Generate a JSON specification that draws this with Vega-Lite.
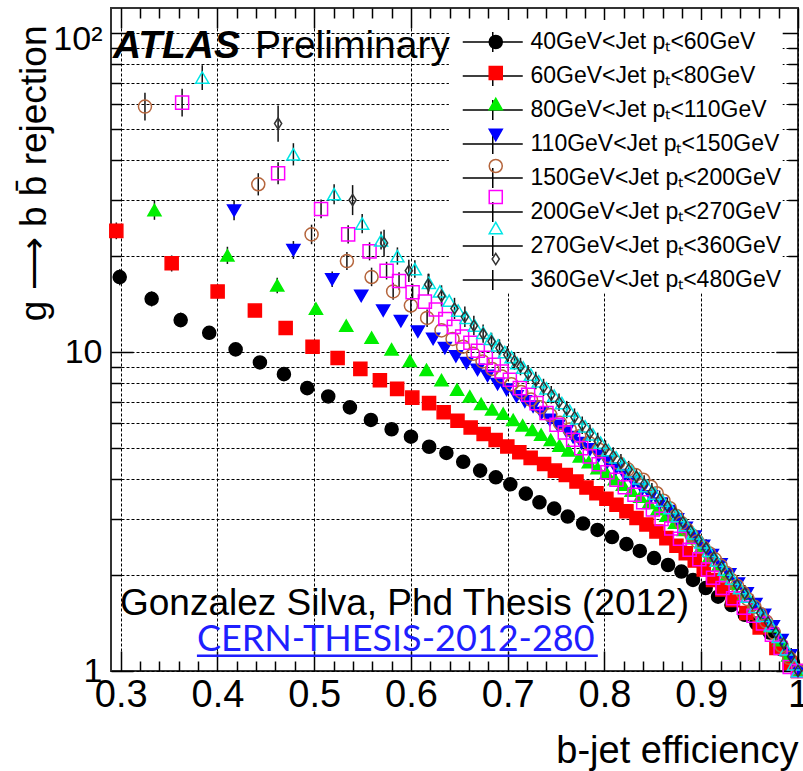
{
"$schema":"https://vega.github.io/schema/vega-lite/v6.json",
"width":687,"height":663,"autosize":"none",
"padding":{"left":111,"top":8,"right":5,"bottom":100},
"background":"white",
"config":{"view":{"stroke":"#333","strokeWidth":2},"font":"Liberation Sans"},
"datasets":{"pts":[
{"s":1,"x":0.299,"y":17.2,"lo":16.2,"hi":18.2},{"s":1,"x":0.332,"y":14.7,"lo":13.9,"hi":15.5},{"s":1,"x":0.362,"y":12.6,"lo":12.0,"hi":13.3},{"s":1,"x":0.3915,"y":11.5},{"s":1,"x":0.4188,"y":10.2},{"s":1,"x":0.4439,"y":9.28},{"s":1,"x":0.4687,"y":8.53},{"s":1,"x":0.4928,"y":7.71},{"s":1,"x":0.5145,"y":7.26},{"s":1,"x":0.5369,"y":6.71},{"s":1,"x":0.5586,"y":6.13},{"s":1,"x":0.58,"y":5.73},{"s":1,"x":0.6,"y":5.43},{"s":1,"x":0.6188,"y":5.05},{"s":1,"x":0.6366,"y":4.83},{"s":1,"x":0.654,"y":4.53},{"s":1,"x":0.6715,"y":4.25},{"s":1,"x":0.6877,"y":4.05},{"s":1,"x":0.7027,"y":3.85},{"s":1,"x":0.7187,"y":3.6},{"s":1,"x":0.7328,"y":3.38},{"s":1,"x":0.748,"y":3.23},{"s":1,"x":0.762,"y":3.05},{"s":1,"x":0.7779,"y":2.9},{"s":1,"x":0.7928,"y":2.77},{"s":1,"x":0.8078,"y":2.63},{"s":1,"x":0.8227,"y":2.5},{"s":1,"x":0.8365,"y":2.38},{"s":1,"x":0.8512,"y":2.26},{"s":1,"x":0.8657,"y":2.15},{"s":1,"x":0.8795,"y":2.05},{"s":1,"x":0.8915,"y":1.93},{"s":1,"x":0.9046,"y":1.82},{"s":1,"x":0.9174,"y":1.71},{"s":1,"x":0.9312,"y":1.61},{"s":1,"x":0.945,"y":1.5},{"s":1,"x":0.957,"y":1.41},{"s":1,"x":0.9708,"y":1.32},{"s":1,"x":0.9829,"y":1.17},{"s":1,"x":0.9948,"y":1.06},
{"s":2,"x":0.2955,"y":24.0,"lo":22.6,"hi":25.5},{"s":2,"x":0.3527,"y":19.0,"lo":17.9,"hi":20.1},{"s":2,"x":0.4002,"y":15.5,"lo":14.7,"hi":16.3},{"s":2,"x":0.4387,"y":13.5},{"s":2,"x":0.4705,"y":11.9},{"s":2,"x":0.4983,"y":10.4},{"s":2,"x":0.5242,"y":9.58},{"s":2,"x":0.5477,"y":8.86},{"s":2,"x":0.5679,"y":8.16},{"s":2,"x":0.5857,"y":7.67},{"s":2,"x":0.6014,"y":7.2},{"s":2,"x":0.6187,"y":6.92},{"s":2,"x":0.6338,"y":6.48},{"s":2,"x":0.6481,"y":6.09},{"s":2,"x":0.6617,"y":5.8},{"s":2,"x":0.6751,"y":5.54},{"s":2,"x":0.6875,"y":5.3},{"s":2,"x":0.6996,"y":5.06},{"s":2,"x":0.712,"y":4.85},{"s":2,"x":0.7237,"y":4.66},{"s":2,"x":0.7376,"y":4.46},{"s":2,"x":0.7487,"y":4.25},{"s":2,"x":0.76,"y":4.12},{"s":2,"x":0.7711,"y":3.93},{"s":2,"x":0.7814,"y":3.76},{"s":2,"x":0.7917,"y":3.61},{"s":2,"x":0.802,"y":3.47},{"s":2,"x":0.8124,"y":3.32},{"s":2,"x":0.8227,"y":3.17},{"s":2,"x":0.8331,"y":3.02},{"s":2,"x":0.8434,"y":2.88},{"s":2,"x":0.8537,"y":2.74},{"s":2,"x":0.864,"y":2.61},{"s":2,"x":0.8744,"y":2.47},{"s":2,"x":0.884,"y":2.34},{"s":2,"x":0.8933,"y":2.22},{"s":2,"x":0.9026,"y":2.08},{"s":2,"x":0.9122,"y":1.93},{"s":2,"x":0.9219,"y":1.8},{"s":2,"x":0.9325,"y":1.67},{"s":2,"x":0.9467,"y":1.52},{"s":2,"x":0.9604,"y":1.37},{"s":2,"x":0.9777,"y":1.18},{"s":2,"x":0.9914,"y":1.06},{"s":2,"x":1.0,"y":1.0},
{"s":3,"x":0.3349,"y":27.9,"lo":26.0,"hi":30.0},{"s":3,"x":0.4103,"y":20.1,"lo":18.9,"hi":21.4},{"s":3,"x":0.4618,"y":16.2,"lo":15.3,"hi":17.1},{"s":3,"x":0.5018,"y":13.7},{"s":3,"x":0.5331,"y":12.1},{"s":3,"x":0.5593,"y":11.1},{"s":3,"x":0.58,"y":10.2},{"s":3,"x":0.5989,"y":9.39},{"s":3,"x":0.6161,"y":8.8},{"s":3,"x":0.6316,"y":8.17},{"s":3,"x":0.6477,"y":7.63},{"s":3,"x":0.6608,"y":7.26},{"s":3,"x":0.6725,"y":6.88},{"s":3,"x":0.6838,"y":6.61},{"s":3,"x":0.6953,"y":6.41},{"s":3,"x":0.7056,"y":6.13},{"s":3,"x":0.7154,"y":5.89},{"s":3,"x":0.7254,"y":5.7},{"s":3,"x":0.7345,"y":5.51},{"s":3,"x":0.7445,"y":5.31},{"s":3,"x":0.7535,"y":5.09},{"s":3,"x":0.7628,"y":4.92},{"s":3,"x":0.7745,"y":4.71},{"s":3,"x":0.7838,"y":4.52},{"s":3,"x":0.7928,"y":4.33},{"s":3,"x":0.8021,"y":4.18},{"s":3,"x":0.8107,"y":4.0},{"s":3,"x":0.819,"y":3.84},{"s":3,"x":0.828,"y":3.68},{"s":3,"x":0.837,"y":3.52},{"s":3,"x":0.846,"y":3.37},{"s":3,"x":0.855,"y":3.22},{"s":3,"x":0.864,"y":3.07},{"s":3,"x":0.873,"y":2.92},{"s":3,"x":0.882,"y":2.77},{"s":3,"x":0.891,"y":2.61},{"s":3,"x":0.9,"y":2.45},{"s":3,"x":0.909,"y":2.3},{"s":3,"x":0.918,"y":2.15},{"s":3,"x":0.927,"y":2.01},{"s":3,"x":0.936,"y":1.88},{"s":3,"x":0.945,"y":1.75},{"s":3,"x":0.954,"y":1.62},{"s":3,"x":0.963,"y":1.5},{"s":3,"x":0.972,"y":1.38},{"s":3,"x":0.981,"y":1.25},{"s":3,"x":0.99,"y":1.12},{"s":3,"x":1.0,"y":1.0},
{"s":4,"x":0.4172,"y":27.8,"lo":25.9,"hi":29.9},{"s":4,"x":0.4785,"y":20.9,"lo":19.6,"hi":22.3},{"s":4,"x":0.5186,"y":16.9,"lo":16.0,"hi":17.9},{"s":4,"x":0.5486,"y":15.0},{"s":4,"x":0.5713,"y":13.5},{"s":4,"x":0.5896,"y":12.5},{"s":4,"x":0.6071,"y":11.6},{"s":4,"x":0.6229,"y":11.0},{"s":4,"x":0.635,"y":10.3},{"s":4,"x":0.6464,"y":9.7},{"s":4,"x":0.6574,"y":9.24},{"s":4,"x":0.6688,"y":8.8},{"s":4,"x":0.6791,"y":8.43},{"s":4,"x":0.6895,"y":7.94},{"s":4,"x":0.6988,"y":7.62},{"s":4,"x":0.7091,"y":7.26},{"s":4,"x":0.7177,"y":7.0},{"s":4,"x":0.7262,"y":6.75},{"s":4,"x":0.7349,"y":6.44},{"s":4,"x":0.7435,"y":6.13},{"s":4,"x":0.7521,"y":5.87},{"s":4,"x":0.7607,"y":5.64},{"s":4,"x":0.7676,"y":5.41},{"s":4,"x":0.7762,"y":5.18},{"s":4,"x":0.785,"y":4.95},{"s":4,"x":0.794,"y":4.73},{"s":4,"x":0.803,"y":4.52},{"s":4,"x":0.812,"y":4.31},{"s":4,"x":0.821,"y":4.11},{"s":4,"x":0.83,"y":3.91},{"s":4,"x":0.839,"y":3.72},{"s":4,"x":0.848,"y":3.53},{"s":4,"x":0.857,"y":3.35},{"s":4,"x":0.866,"y":3.17},{"s":4,"x":0.875,"y":2.99},{"s":4,"x":0.884,"y":2.81},{"s":4,"x":0.893,"y":2.64},{"s":4,"x":0.902,"y":2.47},{"s":4,"x":0.911,"y":2.31},{"s":4,"x":0.92,"y":2.16},{"s":4,"x":0.929,"y":2.01},{"s":4,"x":0.938,"y":1.88},{"s":4,"x":0.947,"y":1.75},{"s":4,"x":0.956,"y":1.62},{"s":4,"x":0.965,"y":1.5},{"s":4,"x":0.974,"y":1.38},{"s":4,"x":0.983,"y":1.25},{"s":4,"x":0.992,"y":1.12},{"s":4,"x":1.0,"y":1.0},
{"s":5,"x":0.3251,"y":58.9,"lo":53.3,"hi":65.1},{"s":5,"x":0.4422,"y":33.6,"lo":31.0,"hi":36.4},{"s":5,"x":0.4973,"y":23.4,"lo":21.8,"hi":25.1},{"s":5,"x":0.5338,"y":19.3,"lo":18.1,"hi":20.6},{"s":5,"x":0.5593,"y":17.2,"lo":16.1,"hi":18.4},{"s":5,"x":0.5816,"y":15.5,"lo":14.6,"hi":16.5},{"s":5,"x":0.5999,"y":14.0,"lo":13.2,"hi":14.9},{"s":5,"x":0.6167,"y":12.8,"lo":12.0,"hi":13.6},{"s":5,"x":0.6316,"y":11.7},{"s":5,"x":0.643,"y":11.0},{"s":5,"x":0.6539,"y":10.4},{"s":5,"x":0.6643,"y":9.88},{"s":5,"x":0.674,"y":9.35},{"s":5,"x":0.684,"y":8.85},{"s":5,"x":0.694,"y":8.38},{"s":5,"x":0.704,"y":7.93},{"s":5,"x":0.714,"y":7.5},{"s":5,"x":0.724,"y":7.1},{"s":5,"x":0.734,"y":6.72},{"s":5,"x":0.744,"y":6.35},{"s":5,"x":0.754,"y":6.0},{"s":5,"x":0.764,"y":5.72},{"s":5,"x":0.774,"y":5.45},{"s":5,"x":0.784,"y":5.19},{"s":5,"x":0.794,"y":4.95},{"s":5,"x":0.804,"y":4.72},{"s":5,"x":0.814,"y":4.5},{"s":5,"x":0.824,"y":4.29},{"s":5,"x":0.832,"y":4.12},{"s":5,"x":0.84,"y":3.98},{"s":5,"x":0.848,"y":3.78},{"s":5,"x":0.854,"y":3.61},{"s":5,"x":0.861,"y":3.42},{"s":5,"x":0.8675,"y":3.24},{"s":5,"x":0.874,"y":3.07},{"s":5,"x":0.8795,"y":2.91},{"s":5,"x":0.885,"y":2.78},{"s":5,"x":0.89,"y":2.67},{"s":5,"x":0.896,"y":2.55},{"s":5,"x":0.902,"y":2.44},{"s":5,"x":0.908,"y":2.34},{"s":5,"x":0.914,"y":2.24},{"s":5,"x":0.92,"y":2.14},{"s":5,"x":0.926,"y":2.03},{"s":5,"x":0.931,"y":1.93},{"s":5,"x":0.937,"y":1.85},{"s":5,"x":0.943,"y":1.76},{"s":5,"x":0.948,"y":1.68},{"s":5,"x":0.955,"y":1.59},{"s":5,"x":0.961,"y":1.51},{"s":5,"x":0.967,"y":1.43},{"s":5,"x":0.975,"y":1.32},{"s":5,"x":0.983,"y":1.2},{"s":5,"x":0.991,"y":1.1},{"s":5,"x":1.0,"y":1.0},
{"s":6,"x":0.3635,"y":60.6,"lo":54.8,"hi":67.0},{"s":6,"x":0.4627,"y":36.4,"lo":33.6,"hi":39.4},{"s":6,"x":0.5071,"y":28.1,"lo":26.3,"hi":30.1},{"s":6,"x":0.5351,"y":23.4,"lo":21.9,"hi":25.0},{"s":6,"x":0.5572,"y":20.7,"lo":19.4,"hi":22.1},{"s":6,"x":0.5748,"y":18.0,"lo":16.9,"hi":19.2},{"s":6,"x":0.5877,"y":16.7,"lo":15.7,"hi":17.8},{"s":6,"x":0.6017,"y":15.4,"lo":14.5,"hi":16.4},{"s":6,"x":0.6144,"y":14.4},{"s":6,"x":0.6257,"y":13.6},{"s":6,"x":0.6355,"y":12.7},{"s":6,"x":0.6443,"y":12.0},{"s":6,"x":0.6529,"y":11.2},{"s":6,"x":0.6614,"y":10.7},{"s":6,"x":0.6691,"y":10.1},{"s":6,"x":0.6774,"y":9.6},{"s":6,"x":0.6856,"y":9.12},{"s":6,"x":0.6936,"y":8.69},{"s":6,"x":0.7022,"y":8.19},{"s":6,"x":0.7125,"y":7.71},{"s":6,"x":0.7211,"y":7.35},{"s":6,"x":0.7298,"y":6.92},{"s":6,"x":0.7401,"y":6.44},{"s":6,"x":0.7504,"y":5.92},{"s":6,"x":0.759,"y":5.6},{"s":6,"x":0.7676,"y":5.31},{"s":6,"x":0.776,"y":5.0},{"s":6,"x":0.7848,"y":4.71},{"s":6,"x":0.794,"y":4.45},{"s":6,"x":0.803,"y":4.2},{"s":6,"x":0.8124,"y":3.98},{"s":6,"x":0.821,"y":3.77},{"s":6,"x":0.831,"y":3.57},{"s":6,"x":0.84,"y":3.38},{"s":6,"x":0.85,"y":3.21},{"s":6,"x":0.859,"y":3.0},{"s":6,"x":0.869,"y":2.8},{"s":6,"x":0.878,"y":2.6},{"s":6,"x":0.888,"y":2.4},{"s":6,"x":0.898,"y":2.24},{"s":6,"x":0.907,"y":2.08},{"s":6,"x":0.9122,"y":1.96},{"s":6,"x":0.922,"y":1.82},{"s":6,"x":0.9329,"y":1.69},{"s":6,"x":0.944,"y":1.58},{"s":6,"x":0.954,"y":1.49},{"s":6,"x":0.9638,"y":1.41},{"s":6,"x":0.973,"y":1.3},{"s":6,"x":0.982,"y":1.18},{"s":6,"x":0.9914,"y":1.03},{"s":6,"x":1.0,"y":1.0},
{"s":7,"x":0.3843,"y":72.6,"lo":66.4,"hi":79.4},{"s":7,"x":0.4785,"y":41.7,"lo":38.5,"hi":45.2},{"s":7,"x":0.5206,"y":31.3,"lo":29.1,"hi":33.6},{"s":7,"x":0.5496,"y":25.3,"lo":23.6,"hi":27.1},{"s":7,"x":0.5691,"y":22.4,"lo":21.0,"hi":23.9},{"s":7,"x":0.586,"y":20.0,"lo":18.8,"hi":21.3},{"s":7,"x":0.604,"y":18.2,"lo":17.1,"hi":19.4},{"s":7,"x":0.6185,"y":16.5,"lo":15.5,"hi":17.6},{"s":7,"x":0.6299,"y":15.5},{"s":7,"x":0.6395,"y":14.5},{"s":7,"x":0.6488,"y":13.5},{"s":7,"x":0.6574,"y":12.8},{"s":7,"x":0.666,"y":12.1},{"s":7,"x":0.6746,"y":11.5},{"s":7,"x":0.6825,"y":11.0},{"s":7,"x":0.6901,"y":10.5},{"s":7,"x":0.697,"y":10.0},{"s":7,"x":0.7039,"y":9.64},{"s":7,"x":0.7097,"y":9.24},{"s":7,"x":0.716,"y":8.95},{"s":7,"x":0.724,"y":8.5},{"s":7,"x":0.732,"y":8.1},{"s":7,"x":0.74,"y":7.7},{"s":7,"x":0.748,"y":7.3},{"s":7,"x":0.756,"y":6.92},{"s":7,"x":0.764,"y":6.55},{"s":7,"x":0.772,"y":6.2},{"s":7,"x":0.78,"y":5.85},{"s":7,"x":0.788,"y":5.52},{"s":7,"x":0.796,"y":5.2},{"s":7,"x":0.804,"y":4.93},{"s":7,"x":0.812,"y":4.68},{"s":7,"x":0.82,"y":4.45},{"s":7,"x":0.828,"y":4.23},{"s":7,"x":0.836,"y":4.02},{"s":7,"x":0.844,"y":3.8},{"s":7,"x":0.852,"y":3.6},{"s":7,"x":0.86,"y":3.42},{"s":7,"x":0.868,"y":3.24},{"s":7,"x":0.876,"y":3.06},{"s":7,"x":0.884,"y":2.87},{"s":7,"x":0.892,"y":2.7},{"s":7,"x":0.9,"y":2.53},{"s":7,"x":0.908,"y":2.38},{"s":7,"x":0.916,"y":2.22},{"s":7,"x":0.924,"y":2.08},{"s":7,"x":0.932,"y":1.95},{"s":7,"x":0.94,"y":1.82},{"s":7,"x":0.948,"y":1.71},{"s":7,"x":0.956,"y":1.59},{"s":7,"x":0.964,"y":1.49},{"s":7,"x":0.972,"y":1.39},{"s":7,"x":0.98,"y":1.28},{"s":7,"x":0.988,"y":1.17},{"s":7,"x":0.996,"y":1.05},{"s":7,"x":1.0,"y":1.0},
{"s":8,"x":0.4627,"y":52.1,"lo":45.7,"hi":59.3},{"s":8,"x":0.5397,"y":30.0,"lo":26.9,"hi":33.4},{"s":8,"x":0.5722,"y":22.0,"lo":20.0,"hi":24.2},{"s":8,"x":0.5978,"y":18.0,"lo":16.6,"hi":19.5},{"s":8,"x":0.6178,"y":16.3,"lo":15.1,"hi":17.6},{"s":8,"x":0.6316,"y":15.0,"lo":13.9,"hi":16.2},{"s":8,"x":0.645,"y":13.7,"lo":12.7,"hi":14.8},{"s":8,"x":0.6557,"y":12.9,"lo":12.0,"hi":13.9},{"s":8,"x":0.665,"y":12.1,"lo":11.3,"hi":13.0},{"s":8,"x":0.6746,"y":11.4,"lo":10.7,"hi":12.2},{"s":8,"x":0.6833,"y":10.8,"lo":10.1,"hi":11.5},{"s":8,"x":0.6915,"y":10.3,"lo":9.67,"hi":10.97},{"s":8,"x":0.6996,"y":9.81,"lo":9.21,"hi":10.45},{"s":8,"x":0.707,"y":9.38,"lo":8.81,"hi":9.99},{"s":8,"x":0.7132,"y":9.01,"lo":8.46,"hi":9.6},{"s":8,"x":0.721,"y":8.55,"lo":8.03,"hi":9.11},{"s":8,"x":0.729,"y":8.15,"lo":7.65,"hi":8.68},{"s":8,"x":0.737,"y":7.75,"lo":7.28,"hi":8.25},{"s":8,"x":0.745,"y":7.35,"lo":6.9,"hi":7.83},{"s":8,"x":0.753,"y":6.97,"lo":6.54,"hi":7.42},{"s":8,"x":0.761,"y":6.6,"lo":6.2,"hi":7.03},{"s":8,"x":0.769,"y":6.25,"lo":5.87,"hi":6.66},{"s":8,"x":0.777,"y":5.9,"lo":5.54,"hi":6.28},{"s":8,"x":0.785,"y":5.57,"lo":5.23,"hi":5.93},{"s":8,"x":0.793,"y":5.25,"lo":4.93,"hi":5.59},{"s":8,"x":0.801,"y":4.97,"lo":4.67,"hi":5.29},{"s":8,"x":0.809,"y":4.72,"lo":4.43,"hi":5.03},{"s":8,"x":0.817,"y":4.5,"lo":4.23,"hi":4.79},{"s":8,"x":0.825,"y":4.28,"lo":4.02,"hi":4.56},{"s":8,"x":0.833,"y":4.07,"lo":3.82,"hi":4.33},{"s":8,"x":0.841,"y":3.86,"lo":3.62,"hi":4.11},{"s":8,"x":0.849,"y":3.65,"lo":3.43,"hi":3.89},{"s":8,"x":0.857,"y":3.46,"lo":3.25,"hi":3.68},{"s":8,"x":0.865,"y":3.29,"lo":3.09,"hi":3.5},{"s":8,"x":0.873,"y":3.12,"lo":2.93,"hi":3.32},{"s":8,"x":0.881,"y":2.93,"lo":2.75,"hi":3.12},{"s":8,"x":0.889,"y":2.75,"lo":2.58,"hi":2.93},{"s":8,"x":0.897,"y":2.58,"lo":2.42,"hi":2.75},{"s":8,"x":0.905,"y":2.43,"lo":2.28,"hi":2.59},{"s":8,"x":0.913,"y":2.27,"lo":2.13,"hi":2.42},{"s":8,"x":0.921,"y":2.12,"lo":1.99,"hi":2.26},{"s":8,"x":0.929,"y":1.99,"lo":1.87,"hi":2.12},{"s":8,"x":0.937,"y":1.86,"lo":1.75,"hi":1.98},{"s":8,"x":0.945,"y":1.75,"lo":1.64,"hi":1.86},{"s":8,"x":0.953,"y":1.63,"lo":1.53,"hi":1.74},{"s":8,"x":0.961,"y":1.52,"lo":1.43,"hi":1.62},{"s":8,"x":0.969,"y":1.42,"lo":1.33,"hi":1.51},{"s":8,"x":0.977,"y":1.32,"lo":1.24,"hi":1.41},{"s":8,"x":0.985,"y":1.22,"lo":1.15,"hi":1.3},{"s":8,"x":0.993,"y":1.11,"lo":1.04,"hi":1.18},{"s":8,"x":1.0,"y":1.0}
]},
"data":{"name":"pts"},
"layer":[
 {"mark":{"type":"point","opacity":0},
  "encoding":{
   "x":{"field":"x","type":"quantitative","scale":{"domain":[0.29,1.0],"nice":false,"zero":false},
    "axis":{"orient":"bottom","values":[0.3,0.32,0.34,0.36,0.38,0.4,0.42,0.44,0.46,0.48,0.5,0.52,0.54,0.56,0.58,0.6,0.62,0.64,0.66,0.68,0.7,0.72,0.74,0.76,0.78,0.8,0.82,0.84,0.86,0.88,0.9,0.92,0.94,0.96,0.98,1.0],
     "labelExpr":"abs(datum.value*10-round(datum.value*10))<0.001 ? (datum.value>0.999 ? '1' : format(datum.value,'.1f')) : ''",
     "labelFont":"Liberation Sans","labelFontSize":38,"labelColor":"#000","labelPadding":25,"labelFlush":false,"labelOverlap":false,"labelBound":false,
     "tickSize":{"condition":{"test":"abs(datum.value*10-round(datum.value*10))<0.001","value":-20},"value":-10},
     "tickColor":"#000","tickWidth":1.5,"domain":false,
     "grid":true,"gridDash":[3,2],"gridColor":"#000","gridWidth":1,
     "gridOpacity":{"condition":{"test":"abs(datum.value*10-round(datum.value*10))<0.001","value":1},"value":0},
     "title":"b-jet efficiency","titleFont":"Liberation Sans","titleFontSize":38,"titleFontWeight":"normal","titleColor":"#000",
     "titleAnchor":"end","titleAlign":"right","titleBaseline":"alphabetic","titleX":687,"titleY":91}},
   "y":{"field":"y","type":"quantitative","scale":{"type":"log","domain":[1,120],"nice":false},
    "axis":{"orient":"left","values":[1,2,3,4,5,6,7,8,9,10,20,30,40,50,60,70,80,90,100],
     "labelExpr":"datum.value==100 ? '10²' : datum.value==10 ? '10' : datum.value==1 ? '1' : ''",
     "labelFont":"Liberation Sans","labelFontSize":34,"labelColor":"#000","labelPadding":31,"labelFlush":false,"labelOverlap":false,"labelBound":false,
     "labelOffset":{"condition":{"test":"datum.value==100","value":6},"value":0},
     "tickSize":{"condition":{"test":"datum.value==1||datum.value==10||datum.value==100","value":-22},"value":-10},
     "tickColor":"#000","tickWidth":1.5,"domain":false,
     "grid":true,"gridDash":[3,2],"gridColor":"#000","gridWidth":1,"gridOpacity":1,
     "title":"g ⟶ b b̄ rejection","titleFont":"Liberation Sans","titleFontSize":37,"titleFontWeight":"normal","titleColor":"#000",
     "titleAngle":270,"titleAlign":"right","titleBaseline":"alphabetic","titleX":-66,"titleY":17}}}},
 {"mark":{"type":"point","opacity":0},
  "encoding":{
   "x":{"field":"x","type":"quantitative","scale":{"domain":[0.29,1.0],"nice":false,"zero":false},
    "axis":{"orient":"top","values":[0.3,0.32,0.34,0.36,0.38,0.4,0.42,0.44,0.46,0.48,0.5,0.52,0.54,0.56,0.58,0.6,0.62,0.64,0.66,0.68,0.7,0.72,0.74,0.76,0.78,0.8,0.82,0.84,0.86,0.88,0.9,0.92,0.94,0.96,0.98,1.0],
     "labels":false,"grid":false,"domain":false,"title":null,"tickColor":"#000","tickWidth":1.5,
     "tickSize":{"condition":{"test":"abs(datum.value*10-round(datum.value*10))<0.001","value":-20},"value":-10}}},
   "y":{"field":"y","type":"quantitative","scale":{"type":"log","domain":[1,120],"nice":false},
    "axis":{"orient":"right","values":[1,2,3,4,5,6,7,8,9,10,20,30,40,50,60,70,80,90,100],
     "labels":false,"grid":false,"domain":false,"title":null,"tickColor":"#000","tickWidth":1.5,
     "tickSize":{"condition":{"test":"datum.value==1||datum.value==10||datum.value==100","value":-22},"value":-10}}}}},
 {"data":{"values":[{}]},"mark":{"type":"rect","color":"white"},
  "encoding":{"x":{"datum":0.6392,"type":"quantitative","axis":null},"x2":{"datum":0.9842},"y":{"datum":110,"type":"quantitative","axis":null},"y2":{"datum":15.3}}},
 {"transform":[{"filter":"isValid(datum.lo)"}],
  "mark":{"type":"rule","color":"#111","strokeWidth":1.5},
  "encoding":{
   "x":{"field":"x","type":"quantitative","axis":null},
   "y":{"field":"lo","type":"quantitative","axis":null},
   "y2":{"field":"hi"}}},
 {"mark":{"type":"line","opacity":0},
  "encoding":{
   "x":{"field":"x","type":"quantitative","axis":null},
   "y":{"field":"y","type":"quantitative","axis":null},
   "strokeDash":{"field":"s","type":"nominal","scale":{"range":[[1,0]]},
    "legend":{"title":null,"orient":"none","legendX":370.25,"legendY":22.5,"padding":0,"rowPadding":7,
     "labelFont":"Liberation Sans","labelFontSize":23,"labelColor":"#000","labelOffset":26.25,"labelLimit":400,
     "symbolType":"M-3,0H3M0,-1V1","symbolSize":400,"symbolStrokeColor":"#000","symbolStrokeWidth":1.5,"symbolFillColor":"transparent","symbolOpacity":1,"zindex":1,
     "labelExpr":"['','40GeV<Jet pₜ<60GeV','60GeV<Jet pₜ<80GeV','80GeV<Jet pₜ<110GeV','110GeV<Jet pₜ<150GeV','150GeV<Jet pₜ<200GeV','200GeV<Jet pₜ<270GeV','270GeV<Jet pₜ<360GeV','360GeV<Jet pₜ<480GeV'][datum.value]"}}}},
 {"mark":{"type":"point","strokeWidth":1.5,"opacity":1,"size":170},
  "encoding":{
   "x":{"field":"x","type":"quantitative","axis":null},
   "y":{"field":"y","type":"quantitative","axis":null},
   "shape":{"field":"s","type":"nominal","scale":{"domain":[1,2,3,4,5,6,7,8],"range":["circle","square","triangle-up","triangle-down","circle","square","triangle-up","M0,-0.85L0.55,0L0,0.85L-0.55,0Z"]},
    "legend":{"title":null,"orient":"none","legendX":373.25,"legendY":22.5,"padding":0,"rowPadding":7,"labelFont":"Liberation Sans","labelFontSize":23,"labelColor":"transparent","labelLimit":400,"symbolSize":170,"symbolStrokeWidth":1.5,"symbolOpacity":1,"zindex":2}},
   "fill":{"field":"s","type":"nominal","scale":{"domain":[1,2,3,4,5,6,7,8],"range":["#000000","#ff0000","#00ee00","#0000ff","transparent","transparent","transparent","transparent"]},
    "legend":{"title":null,"orient":"none","legendX":373.25,"legendY":22.5,"padding":0,"rowPadding":7,"labelFont":"Liberation Sans","labelFontSize":23,"labelColor":"transparent","labelLimit":400,"symbolSize":170,"symbolStrokeWidth":1.5,"symbolOpacity":1,"zindex":2}},
   "stroke":{"field":"s","type":"nominal","scale":{"domain":[1,2,3,4,5,6,7,8],"range":["#000000","#ff0000","#00ee00","#0000ff","#b5653c","#ff00ff","#00e5e5","#333333"]},
    "legend":{"title":null,"orient":"none","legendX":373.25,"legendY":22.5,"padding":0,"rowPadding":7,"labelFont":"Liberation Sans","labelFontSize":23,"labelColor":"transparent","labelLimit":400,"symbolSize":170,"symbolStrokeWidth":1.5,"symbolOpacity":1,"zindex":2}}}},
 {"data":{"values":[{}]},"mark":{"type":"text","text":"ATLAS","font":"Liberation Sans","fontSize":39,"fontWeight":"bold","fontStyle":"italic","align":"left","baseline":"alphabetic","color":"#000"},
  "encoding":{"x":{"datum":0.292,"type":"quantitative","axis":null},"y":{"datum":83.7,"type":"quantitative","axis":null}}},
 {"data":{"values":[{}]},"mark":{"type":"text","text":"Preliminary","font":"Liberation Sans","fontSize":39,"align":"left","baseline":"alphabetic","color":"#000"},
  "encoding":{"x":{"datum":0.4387,"type":"quantitative","axis":null},"y":{"datum":83.7,"type":"quantitative","axis":null}}},
 {"data":{"values":[{}]},"mark":{"type":"text","text":"Gonzalez Silva, Phd Thesis (2012)","font":"Liberation Sans","fontSize":37,"align":"left","baseline":"alphabetic","color":"#000"},
  "encoding":{"x":{"datum":0.2993,"type":"quantitative","axis":null},"y":{"datum":1.5,"type":"quantitative","axis":null}}},
 {"data":{"values":[{}]},"mark":{"type":"text","text":"CERN-THESIS-2012-280","font":"Lato","fontSize":36,"align":"left","baseline":"alphabetic","color":"#1f1fff"},
  "encoding":{"x":{"datum":0.3788,"type":"quantitative","axis":null},"y":{"datum":1.158,"type":"quantitative","axis":null}}},
 {"data":{"values":[{}]},"mark":{"type":"rule","color":"#1f1fff","strokeWidth":2.5},
  "encoding":{"x":{"datum":0.3788,"type":"quantitative","axis":null},"x2":{"datum":0.7931},"y":{"datum":1.117,"type":"quantitative","axis":null}}}
],
"resolve":{"axis":{"x":"independent","y":"independent"}}
}
